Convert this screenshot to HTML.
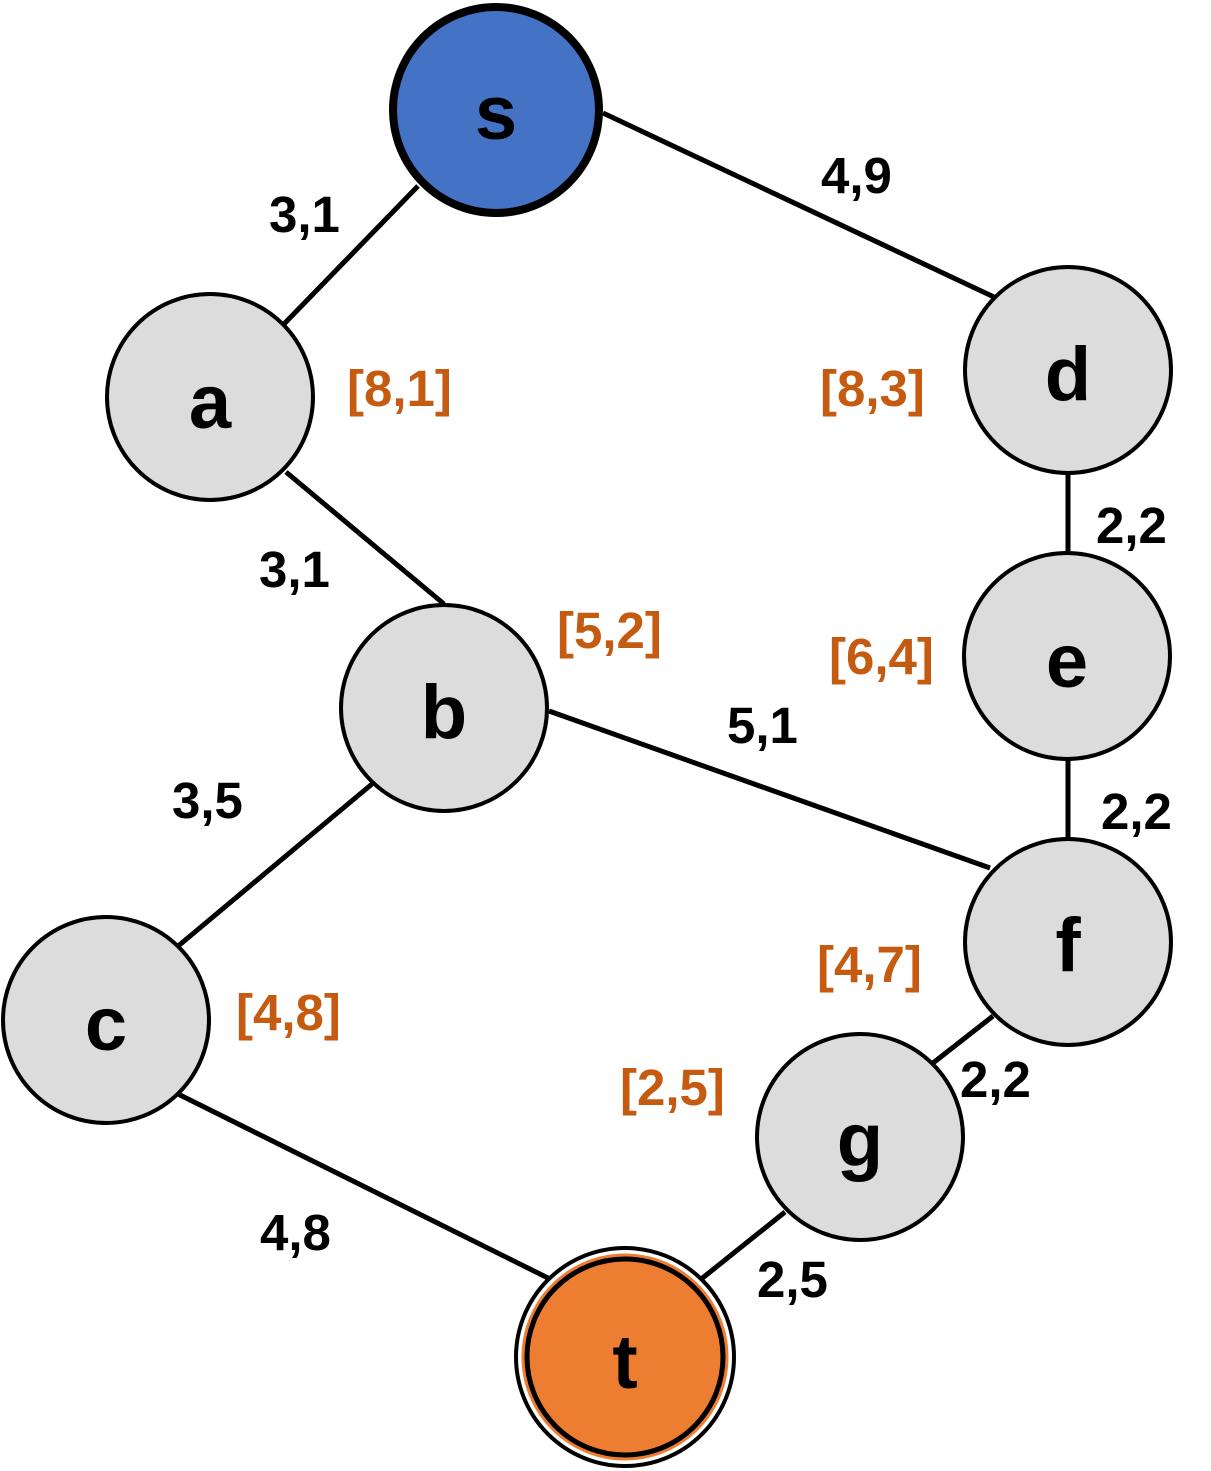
<!DOCTYPE html>
<html><head><meta charset="utf-8"><style>
html,body{margin:0;padding:0;background:#fff;}
svg{display:block;}
text{font-family:"Liberation Sans",Arial,sans-serif;font-weight:bold;}
</style></head><body>
<svg width="1211" height="1471" viewBox="0 0 1211 1471">
<g stroke="#000" stroke-width="5">
<line x1="418" y1="186" x2="284" y2="324"/>
<line x1="603" y1="113" x2="994" y2="297"/>
<line x1="286" y1="472" x2="444" y2="604"/>
<line x1="1068" y1="474" x2="1068" y2="551"/>
<line x1="1068" y1="760" x2="1068" y2="838"/>
<line x1="549" y1="711" x2="990" y2="868"/>
<line x1="372" y1="784" x2="177" y2="947"/>
<line x1="178" y1="1094" x2="550" y2="1279"/>
<line x1="993" y1="1016" x2="933" y2="1063"/>
<line x1="785" y1="1212" x2="700" y2="1280"/>
</g>
<g stroke="#000" stroke-width="4" fill="#DCDCDC">
<circle cx="496" cy="110" r="103" fill="#4472C4" stroke-width="8"/>
<circle cx="210" cy="397" r="103"/>
<circle cx="1068" cy="370" r="103"/>
<circle cx="1067" cy="656" r="103"/>
<circle cx="444" cy="708" r="103"/>
<circle cx="1068" cy="942" r="103"/>
<circle cx="106" cy="1020" r="103"/>
<circle cx="860" cy="1137" r="103"/>
<circle cx="625" cy="1357" r="109" fill="#fff"/>
<circle cx="625" cy="1357" r="102" fill="#ED7D31" stroke="#ED7D31" stroke-width="3"/>
<circle cx="625" cy="1357" r="98" fill="none" stroke-width="5"/>
</g>
<g font-size="76" text-anchor="middle" fill="#000">
<text x="496" y="139">s</text>
<text x="210" y="428">a</text>
<text x="1068" y="400">d</text>
<text x="1067" y="687">e</text>
<text x="444" y="738">b</text>
<text x="1068" y="971">f</text>
<text x="106" y="1050">c</text>
<text x="860" y="1166">g</text>
<text x="625" y="1388">t</text>
</g>
<g font-size="51" fill="#000">
<text x="269" y="232">3,1</text>
<text x="821" y="193">4,9</text>
<text x="259" y="587">3,1</text>
<text x="1096" y="543">2,2</text>
<text x="1101" y="829">2,2</text>
<text x="727" y="743">5,1</text>
<text x="172" y="818">3,5</text>
<text x="260" y="1250">4,8</text>
<text x="960" y="1097">2,2</text>
<text x="757" y="1297">2,5</text>
</g>
<g font-size="51" fill="#C55A11">
<text x="347" y="406">[8,1]</text>
<text x="820" y="406">[8,3]</text>
<text x="557" y="648">[5,2]</text>
<text x="829" y="674">[6,4]</text>
<text x="817" y="982">[4,7]</text>
<text x="236" y="1030">[4,8]</text>
<text x="620" y="1105">[2,5]</text>
</g>
</svg>
</body></html>
